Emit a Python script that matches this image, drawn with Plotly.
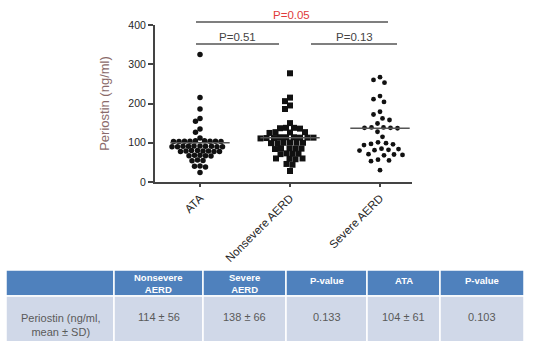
import numpy as np
import plotly.graph_objects as go

# ---------------- data ----------------
categories = ["ATA", "Nonsevere AERD", "Severe AERD"]
ata = [325, 215, 186, 162, 155, 135, 127, 112,
       105, 104, 103, 104, 103, 105, 104, 103, 104,
       92, 91, 90, 91, 90, 92, 90, 91, 91, 90,
       80, 79, 78, 79, 80, 78, 79, 78,
       68, 67, 66, 68, 67,
       55, 54, 56, 40, 38, 41, 24]
nonsevere = [277, 215, 206, 195, 186, 150,
             138, 137, 136, 138,
             127, 126, 125, 127,
             114, 113, 112, 114, 113, 112, 111, 114, 113,
             100, 99, 101, 100, 99, 100,
             86, 85, 84, 86, 85,
             73, 72, 71, 72,
             60, 59, 58, 60,
             46, 44, 28]
severe = [267, 260, 253, 219, 211, 204, 179, 172, 162, 158, 149,
          139, 138, 137, 138, 139, 128, 115,
          101, 99, 97, 96, 94,
          85, 84, 82, 81, 80,
          71, 70, 69, 68,
          57, 55, 53, 30]
center_lines = [100, 113, 137]
y_ticks = [0, 100, 200, 300, 400]

comparisons = [("P=0.05", 0, 2), ("P=0.51", 0, 1), ("P=0.13", 1, 2)]

table_header = ["", "Nonsevere<br>AERD", "Severe<br>AERD", "P-value", "ATA", "P-value"]
table_row = ["Periostin (ng/ml,<br>mean ± SD)", "114 ± 56", "138 ± 66", "0.133", "104 ± 61", "0.103"]

# ---------------- layout geometry ----------------
W, H = 560, 341
x_left_px, x_right_px = 155, 412
y0_px, y400_px = 182, 25
px_per_unit_x = 90.0
px_per_unit_y = (y0_px - y400_px) / 400.0

x_range = [-0.5, -0.5 + (x_right_px - x_left_px) / px_per_unit_x]
FONT = "Liberation Sans, Arial"


def beeswarm(values, spacing):
    """Deterministic beeswarm offsets (in category units)."""
    order = np.argsort(-np.asarray(values, dtype=float), kind="stable")
    placed = []
    offsets = np.zeros(len(values))
    cands = sorted(np.arange(-60, 60.01, 0.5), key=lambda c: (abs(c), c))
    for idx in order:
        yp = values[idx] * px_per_unit_y
        for c in cands:
            if all((px - c) ** 2 + (py - yp) ** 2 >= spacing ** 2 for px, py in placed):
                placed.append((c, yp))
                offsets[idx] = c / px_per_unit_x
                break
    return offsets


groups = [ata, nonsevere, severe]
symbols = ["circle", "square", "circle"]
sizes = [5.5, 6, 4.8]
spacings = [5.2, 5.9, 7.0]

fig = go.Figure()
for i, vals in enumerate(groups):
    offs = beeswarm(vals, spacings[i])
    fig.add_trace(go.Scatter(
        x=i + offs, y=vals, mode="markers",
        marker=dict(symbol=symbols[i], size=sizes[i], color="#111111",
                    line=dict(width=0)),
        cliponaxis=False, showlegend=False, hoverinfo="y"))
    fig.add_trace(go.Scatter(
        x=[i - 0.33, i + 0.33], y=[center_lines[i]] * 2, mode="lines",
        line=dict(color="#555555", width=1.5), showlegend=False, hoverinfo="skip"))

fig.update_xaxes(
    domain=[x_left_px / W, x_right_px / W], range=x_range, automargin=False,
    tickvals=list(range(len(categories))), ticktext=categories,
    tickangle=-45, ticks="outside", ticklen=3, tickwidth=1.5, tickcolor="#444",
    showline=True, linecolor="#444", linewidth=2, showgrid=False, zeroline=False,
    tickfont=dict(family=FONT, size=11.5, color="#262626"))
fig.update_yaxes(
    domain=[1 - y0_px / H, 1 - y400_px / H], range=[0, 400], automargin=False,
    tickvals=y_ticks, ticks="outside", ticklen=5, tickwidth=1.5, tickcolor="#444",
    showline=True, linecolor="#444", linewidth=2, showgrid=False, zeroline=False,
    tickfont=dict(family=FONT, size=10.5, color="#262626"),
    title=dict(text="Periostin (ng/ml)", standoff=16,
               font=dict(family=FONT, size=13, color="#8a6a6a")))


def xpaper(cat, shift_px=0):
    return (x_left_px + (cat - x_range[0]) * px_per_unit_x + shift_px) / W


bracket_specs = {
    "P=0.05": dict(y=22, x0=xpaper(0, -4), x1=xpaper(2, 8), color="#e03a3a"),
    "P=0.51": dict(y=44, x0=xpaper(0, -4), x1=xpaper(1, -11), color="#444444"),
    "P=0.13": dict(y=44, x0=xpaper(1, 21), x1=xpaper(2, 17), color="#444444"),
}
for label, a, b in comparisons:
    s = bracket_specs[label]
    yp = 1 - s["y"] / H
    fig.add_shape(type="line", xref="paper", yref="paper",
                  x0=s["x0"], x1=s["x1"], y0=yp, y1=yp,
                  line=dict(color="#555555", width=1.5))
    fig.add_annotation(xref="paper", yref="paper",
                       x=(s["x0"] + s["x1"]) / 2, y=yp, yanchor="bottom",
                       text=label, showarrow=False, yshift=-1,
                       font=dict(family=FONT, size=11.5, color=s["color"]))

# ---------------- table (built from the lists above) ----------------
col_edges = [6, 114, 203, 286, 367, 440, 524]
hdr_top, hdr_bot, row_bot = 270, 296, 345


def py(p):
    return 1 - p / H


for c in range(len(table_header)):
    x0, x1 = col_edges[c] / W, col_edges[c + 1] / W
    fig.add_shape(type="rect", xref="paper", yref="paper", x0=x0, x1=x1,
                  y0=py(hdr_bot), y1=py(hdr_top), fillcolor="#4f81bd",
                  line=dict(color="white", width=1.5), layer="above")
    fig.add_shape(type="rect", xref="paper", yref="paper", x0=x0, x1=x1,
                  y0=py(row_bot), y1=py(hdr_bot), fillcolor="#d0d8e8",
                  line=dict(color="white", width=1.5), layer="above")
    xc = (x0 + x1) / 2
    if table_header[c]:
        two = "<br>" in table_header[c]
        fig.add_annotation(xref="paper", yref="paper", x=xc, y=py(283 if two else 280),
                           text="<b>%s</b>" % table_header[c], showarrow=False,
                           xanchor="center", yanchor="middle", align="center",
                           font=dict(family=FONT, size=9.5, color="white"))
    txt = table_row[c]
    yc = 324.5 if "<br>" in txt else 317
    fig.add_annotation(xref="paper", yref="paper", x=xc, y=py(yc),
                       text=txt, showarrow=False, xanchor="center",
                       yanchor="middle", align="center",
                       font=dict(family=FONT, size=11, color="#5a5a5a"))

fig.update_layout(width=W, height=H, margin=dict(l=0, r=0, t=0, b=0, pad=0),
                  paper_bgcolor="white", plot_bgcolor="white", showlegend=False)

fig.write_html("out.html", config={"displayModeBar": False},
               post_script="document.body.style.margin='0px';document.body.style.padding='0px';")
